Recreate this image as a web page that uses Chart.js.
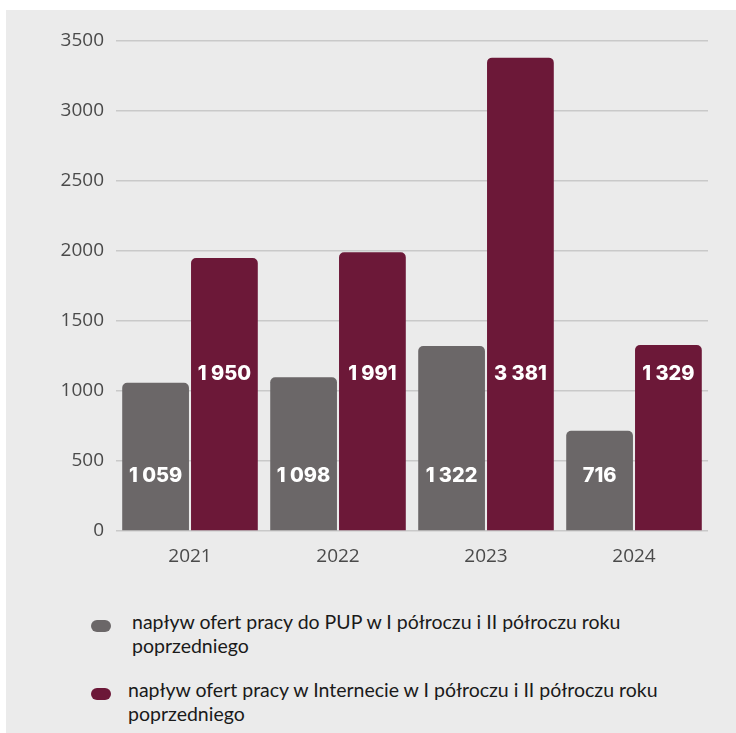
<!DOCTYPE html>
<html>
<head>
<meta charset="utf-8">
<script src="https://cdn.jsdelivr.net/npm/chart.js@4.4.1/dist/chart.umd.min.js"></script>
<style>
  html, body { margin: 0; padding: 0; background: #fff; }
  #panel {
    position: absolute; left: 6px; top: 10px;
    width: 730px; height: 723px; background: #ebebeb;
  }
  #chartBox {
    position: absolute; left: 0; top: 0; width: 736px; height: 580px;
  }
  #legend {
    position: absolute; left: 0; top: 0; width: 736px;
    font-family: Lato, "Open Sans", sans-serif; font-size: 19.5px; color: #1a1a1a;
  }
  .item { position: absolute; left: 0; width: 736px; }
  .dot {
    position: absolute; width: 20px; height: 12px; border-radius: 6px;
  }
  .txt { position: absolute; width: 556px; line-height: 24px; }
</style>
</head>
<body>
<div id="panel"></div>
<div id="chartBox"><canvas id="chart"></canvas></div>
<div id="legend"></div>
<script>
const years = ['2021', '2022', '2023', '2024'];
const pupOffers = [1059, 1098, 1322, 716];
const internetOffers = [1950, 1991, 3381, 1329];
const seriesLabels = [
  'napływ ofert pracy do PUP w I półroczu i II półroczu roku poprzedniego',
  'napływ ofert pracy w Internecie w I półroczu i II półroczu roku poprzedniego'
];
const seriesColors = ['#6b6768', '#6c1838'];

function fmt(n) {
  return String(n).replace(/\B(?=(\d{3})+(?!\d))/g, ' ');
}

// value labels sit at fixed heights inside the bars
const valueLabels = {
  id: 'valueLabels',
  afterDatasetsDraw(chart, args, opts) {
    const ctx = chart.ctx;
    const y = chart.scales.y;
    ctx.save();
    ctx.fillStyle = '#ffffff';
    ctx.font = '800 20px Inter, "DejaVu Sans", sans-serif';
    ctx.textAlign = 'center';
    ctx.textBaseline = 'middle';
    chart.data.datasets.forEach((ds, i) => {
      const meta = chart.getDatasetMeta(i);
      meta.data.forEach((bar, j) => {
        ctx.fillText(fmt(ds.data[j]), bar.x, y.getPixelForValue(opts.levels[i]));
      });
    });
    ctx.restore();
  }
};

const ctx = document.getElementById('chart').getContext('2d');
const chart = new Chart(ctx, {
  type: 'bar',
  data: {
    labels: years,
    datasets: [{
      label: seriesLabels[0],
      data: pupOffers,
      backgroundColor: seriesColors[0],
      borderRadius: { topLeft: 5, topRight: 5 },
      borderSkipped: 'start'
    }, {
      label: seriesLabels[1],
      data: internetOffers,
      backgroundColor: seriesColors[1],
      borderRadius: { topLeft: 5, topRight: 5 },
      borderSkipped: 'start'
    }]
  },
  options: {
    responsive: true,
    maintainAspectRatio: false,
    animation: false,
    layout: { padding: { top: 41, right: 28, left: 0, bottom: 0 } },
    datasets: { bar: { categoryPercentage: 0.93, barPercentage: 0.97 } },
    scales: {
      x: {
        grid: { display: false },
        border: { display: false },
        ticks: { color: '#4a4a4a', font: { family: 'Open Sans', size: 19 }, padding: 6 },
        afterFit: s => { s.height = 49; }
      },
      y: {
        min: 0, max: 3500,
        ticks: {
          stepSize: 500, color: '#4a4a4a', font: { family: 'Open Sans', size: 19 }, padding: 12,
          callback: v => String(v)
        },
        grid: { color: '#c9c9c9', lineWidth: 1.5, drawTicks: false },
        border: { display: false },
        afterFit: s => { s.width = 116; }
      }
    },
    plugins: {
      legend: { display: false },
      tooltip: { enabled: false },
      valueLabels: { levels: [390, 1120] }
    }
  },
  plugins: [valueLabels]
});

// html legend, wraps like the original
const legend = document.getElementById('legend');
const legendTops = [610, 678];
const textLefts = [132, 128];
chart.data.datasets.forEach((ds, i) => {
  const item = document.createElement('div');
  item.className = 'item';
  item.style.top = legendTops[i] + 'px';
  const dot = document.createElement('span');
  dot.className = 'dot';
  dot.style.background = ds.backgroundColor;
  dot.style.left = '91px';
  dot.style.top = '10px';
  const txt = document.createElement('span');
  txt.className = 'txt';
  txt.style.left = textLefts[i] + 'px';
  txt.textContent = ds.label;
  item.appendChild(dot);
  item.appendChild(txt);
  legend.appendChild(item);
});
</script>
</body>
</html>
